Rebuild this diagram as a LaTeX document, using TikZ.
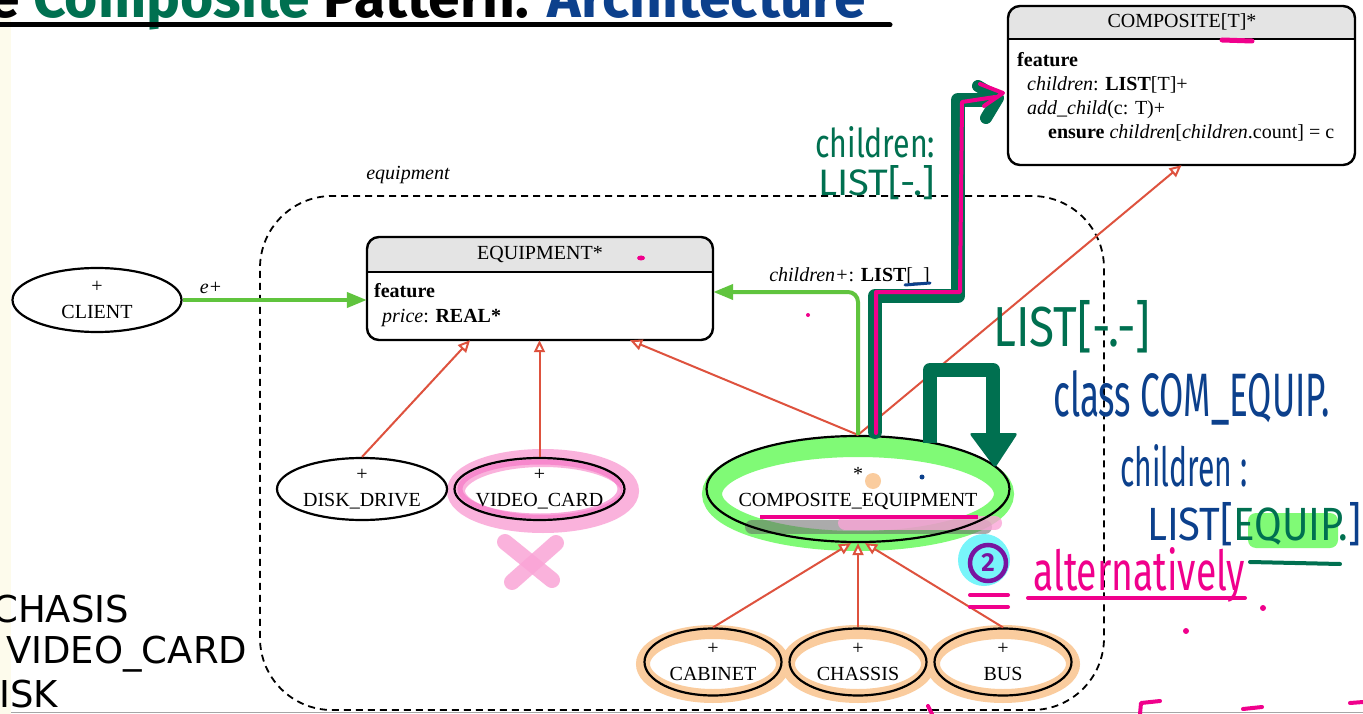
\documentclass[tikz,border=0pt]{standalone}
\usepackage{graphicx}
\usepackage{fontspec}
\setmainfont{Liberation Serif}
\newfontfamily\handfont{Fira Sans}
\newfontfamily\titlefont{Fira Sans}
\newfontfamily\slidefont{DejaVu Sans}
\usetikzlibrary{arrows.meta,shapes.geometric,calc}
\definecolor{inh}{RGB}{222,82,62}
\definecolor{assoc}{RGB}{96,196,62}
\definecolor{dgreen}{RGB}{0,112,80}
\definecolor{hblue}{RGB}{12,64,140}
\definecolor{hpink}{RGB}{240,0,140}
\definecolor{lpink}{RGB}{250,165,215}
\definecolor{mpink}{RGB}{245,110,195}
\definecolor{lorange}{RGB}{250,204,158}
\definecolor{lgreen}{RGB}{128,250,118}
\definecolor{hdr}{RGB}{228,228,228}
\definecolor{cream}{RGB}{253,251,236}
\definecolor{cyanhl}{RGB}{120,245,250}
\definecolor{purp}{RGB}{120,20,160}
\tikzset{
  cls/.style={ellipse, draw, line width=2.2pt, inner sep=0pt},
  clstext/.style={inner sep=0pt, align=center, font=\fontsize{20}{26}\selectfont},
  txt/.style={inner sep=0pt, font=\fontsize{20}{24}\selectfont},
  inhline/.style={draw=inh, line width=2pt, -{Triangle[open,fill=white,length=12pt,width=11pt]}},
  assocline/.style={draw=assoc, line width=4pt, -{Triangle[length=20pt,width=15pt]}},
  boxline/.style={line width=2.4pt, rounded corners=12pt},
  hlorange/.style={draw=lorange, line width=14pt},
  hand/.style={inner sep=0pt, font=\handfont},
  stroke/.style={line width=4pt, line cap=round, line join=round},
}
\begin{document}
\begin{tikzpicture}[x=1pt,y=-1pt]
\useasboundingbox (0,0) rectangle (1363,714);
\fill[white] (0,0) rectangle (1363,714);
\fill[cream] (0,0) rectangle (11,714);
\draw[black!35, line width=0.8pt] (11,712.5) -- (1363,712.5);

% title
\node[anchor=base west, inner sep=0pt, font=\titlefont\bfseries\fontsize{57}{60}\selectfont] (title) at (-12,18)
  {e \textcolor{dgreen}{Composite} Pattern: \textcolor{hblue}{Architecture}};
\draw[line width=5pt, line cap=round] (0,25) -- (890,25);

% slide text on the left
\node[anchor=base west, inner sep=0pt, font=\slidefont\fontsize{37}{40}\selectfont] (s1) at (-8,622) {CHASIS};
\node[anchor=base west, inner sep=0pt, font=\slidefont\fontsize{37}{40}\selectfont] (s2) at (6,663) {VIDEO\_CARD};
\node[anchor=base west, inner sep=0pt, font=\slidefont\fontsize{37}{40}\selectfont] (s3) at (-1,707) {ISK};

% highlights under the diagram
\draw[lpink, line width=18pt, opacity=0.85] (543,491) ellipse [x radius=87, y radius=33];
\draw[mpink, line width=5pt, opacity=0.6] (540,489) ellipse [x radius=80, y radius=27];
\draw[lpink, line width=16pt, line cap=round, opacity=0.85] (505,542) -- (552,580);
\draw[lpink, line width=16pt, line cap=round, opacity=0.85] (556,543) -- (512,582);
\draw[lgreen, line width=20pt] (858,494) ellipse [x radius=146, y radius=47];
\draw[black!60, opacity=0.55, line width=14pt, line cap=round] (752,527) -- (985,527);
\draw[lpink, opacity=0.8, line width=14pt, line cap=round] (845,523) -- (995,523);
\fill[lorange] (873,481) circle (8);
\draw[hlorange] (713,664) ellipse [x radius=70, y radius=32];
\draw[hlorange] (858,664) ellipse [x radius=70, y radius=32];
\draw[hlorange] (1003,664) ellipse [x radius=70, y radius=32];

% cluster
\node[draw, line width=1.8pt, dash pattern=on 7pt off 5pt, rounded corners=72pt, minimum width=844pt, minimum height=514pt, inner sep=0pt] (cluster) at (682,453) {};
\node[txt, font=\itshape\fontsize{20}{24}\selectfont] (clusterlbl) at (408,175) {equipment};

% EQUIPMENT class
\node[minimum width=346pt, minimum height=103pt, inner sep=0pt] (equip) at (540,288.5) {};
\begin{scope}
  \clip[rounded corners=12pt] (367,237) rectangle (713,340);
  \fill[hdr] (367,237) rectangle (713,272);
\end{scope}
\draw[boxline] (367,237) rectangle (713,340);
\draw[line width=2.4pt] (367,272) -- (713,272);
\node[txt] (eqh) at (540,254) {EQUIPMENT*};
\node[txt, anchor=base west] (eqf) at (374,297) {\textbf{feature}};
\node[txt, anchor=base west] (eqp) at (382,322) {\textit{price}: \textbf{REAL*}};

% COMPOSITE class
\node[minimum width=347pt, minimum height=159pt, inner sep=0pt] (comp) at (1181.5,85.5) {};
\begin{scope}
  \clip[rounded corners=12pt] (1008,6) rectangle (1355,165);
  \fill[hdr] (1008,6) rectangle (1355,39);
\end{scope}
\draw[boxline] (1008,6) rectangle (1355,165);
\draw[line width=2.4pt] (1008,39) -- (1355,39);
\node[txt] (cph) at (1182,22) {COMPOSITE[T]*};
\node[txt, anchor=base west] (cpf) at (1017,67) {\textbf{feature}};
\node[txt, anchor=base west] (cpc) at (1027,91) {\textit{children}: \textbf{LIST}[T]+};
\node[txt, anchor=base west] (cpa) at (1027,115) {\textit{add\_child}(c: T)+};
\node[txt, anchor=base west] (cpe) at (1048,139) {\textbf{ensure} \textit{children}[\textit{children}.count] = c};

% ellipse classes
\node[cls, minimum width=169pt, minimum height=64pt] (client) at (97,300) {};
\node[clstext] at (client) {+\\CLIENT};
\node[cls, minimum width=170pt, minimum height=62pt] (disk) at (362,489) {};
\node[clstext] at (disk) {+\\DISK\_DRIVE};
\node[cls, minimum width=170pt, minimum height=62pt] (video) at (539.5,489) {};
\node[clstext] at (video) {+\\VIDEO\_CARD};
\node[cls, minimum width=303pt, minimum height=106pt] (ce) at (858,489) {};
\node[clstext] at (ce) {*\\COMPOSITE\_EQUIPMENT};
\node[cls, minimum width=137pt, minimum height=67pt] (cab) at (713,662) {};
\node[clstext] at (cab) {+\\CABINET};
\node[cls, minimum width=137pt, minimum height=67pt] (chs) at (858,662) {};
\node[clstext] at (chs) {+\\CHASSIS};
\node[cls, minimum width=137pt, minimum height=67pt] (bus) at (1003,662) {};
\node[clstext] at (bus) {+\\BUS};

% inheritance
\draw[inhline] (disk.north) -- ($(equip.south west)!0.298!(equip.south east)$);
\draw[inhline] (video.north) -- (video.north |- equip.south);
\draw[inhline] (ce.north) -- ($(equip.south west)!0.76!(equip.south east)$);
\draw[inhline] (ce.north) -- (comp.south);
\draw[inhline] (cab.north) -- ($(ce.south)+(-7,0)$);
\draw[inhline] (chs.north) -- (ce.south);
\draw[inhline] (bus.north) -- ($(ce.south)+(7,0)$);

% client / association
\draw[assocline] (client.east) -- (client.east -| equip.west);
\node[txt, font=\itshape\fontsize{20}{24}\selectfont, anchor=base] (elbl) at (211,293) {e+};
\draw[assocline, rounded corners=10pt] (ce.north) |- ($(equip.east)+(0,3.5)$);
\node[txt, anchor=base east] (chlbl) at (930,281) {\textit{children+}: \textbf{LIST}[\_]};

% annotations over the diagram
\draw[hpink, line width=3.5pt] (760,517) -- (978,517);
\fill[hblue] (922,477) circle (2.5);
\fill[hpink] (641,258) ellipse [x radius=4, y radius=2.5];
\fill[hpink] (808,315) circle (2);
\draw[hpink, line width=5pt, line cap=round] (1222,40) -- (1252,41);
\draw[hblue, line width=3pt, line cap=round] (905,285) -- (930,283);

% dark green route to COMPOSITE
\draw[dgreen, line width=14pt, line join=round, line cap=round] (875,432) -- (875,296) -- (958,296) -- (958,100) -- (990,100);
\draw[dgreen, line width=12pt, line cap=round, line join=round] (978,86) -- (998,98) -- (986,118);
\draw[hpink, stroke] (876,433) -- (876,292) -- (960,292) -- (962,102) -- (995,97);
\draw[hpink, stroke] (980,84) -- (1003,93) -- (984,106);
\node[hand, text=dgreen, anchor=base west] (a1) at (815,158) {\resizebox{120pt}{31pt}{children:}};
\node[hand, text=dgreen, anchor=base west] (a2) at (818,196) {\resizebox{117pt}{30pt}{LIST[-.]}};

% dark green bracket arrow
\draw[dgreen, line width=14pt, line join=round] (930,443) -- (930,370) -- (993,370) -- (993,440);
\fill[dgreen, rounded corners=3pt] (969,433) -- (1018,433) -- (995,468) -- cycle;
\node[hand, text=dgreen, anchor=base west] (a3) at (993,346) {\resizebox{157pt}{46pt}{LIST[-.-]}};

% blue notes
\fill[lgreen, rounded corners=8pt] (1248,513) rectangle (1338,548);
\node[hand, text=hblue, anchor=base west] (b1) at (1053,416) {\resizebox{277pt}{46pt}{class COM\_EQUIP.}};
\node[hand, text=hblue, anchor=base west] (b2) at (1120,486) {\resizebox{127pt}{42pt}{children :}};
\node[hand, text=hblue, anchor=base west] (b3) at (1147,540) {\resizebox{214pt}{38pt}{LIST[\textcolor{dgreen}{EQUIP.}]}};
\draw[dgreen, line width=4pt, line cap=round] (1250,562) -- (1340,564);

% alternatively
\fill[cyanhl] (984,560) circle (26);
\draw[purp, line width=4.5pt] (988,563) circle (18);
\node[hand, text=purp, font=\handfont\bfseries\fontsize{26}{28}\selectfont] (two) at (988,563) {2};
\draw[hpink, stroke] (970,595) -- (1008,595);
\draw[hpink, stroke] (970,607) -- (1008,607);
\node[hand, text=hpink, anchor=base west] (alt) at (1033,590) {\resizebox{212pt}{43pt}{alternatively}};
\draw[hpink, stroke] (1028,598) -- (1245,598);
\fill[hpink] (1263,608) circle (3);
\fill[hpink] (1186,631) circle (3);
\draw[hpink, stroke] (928,706) -- (932,714);
\draw[hpink, stroke] (1140,714) -- (1141,703) -- (1160,701);
\draw[hpink, stroke] (1243,709) -- (1262,707);
\draw[hpink, stroke] (1350,703) -- (1363,702);
\end{tikzpicture}
\end{document}
